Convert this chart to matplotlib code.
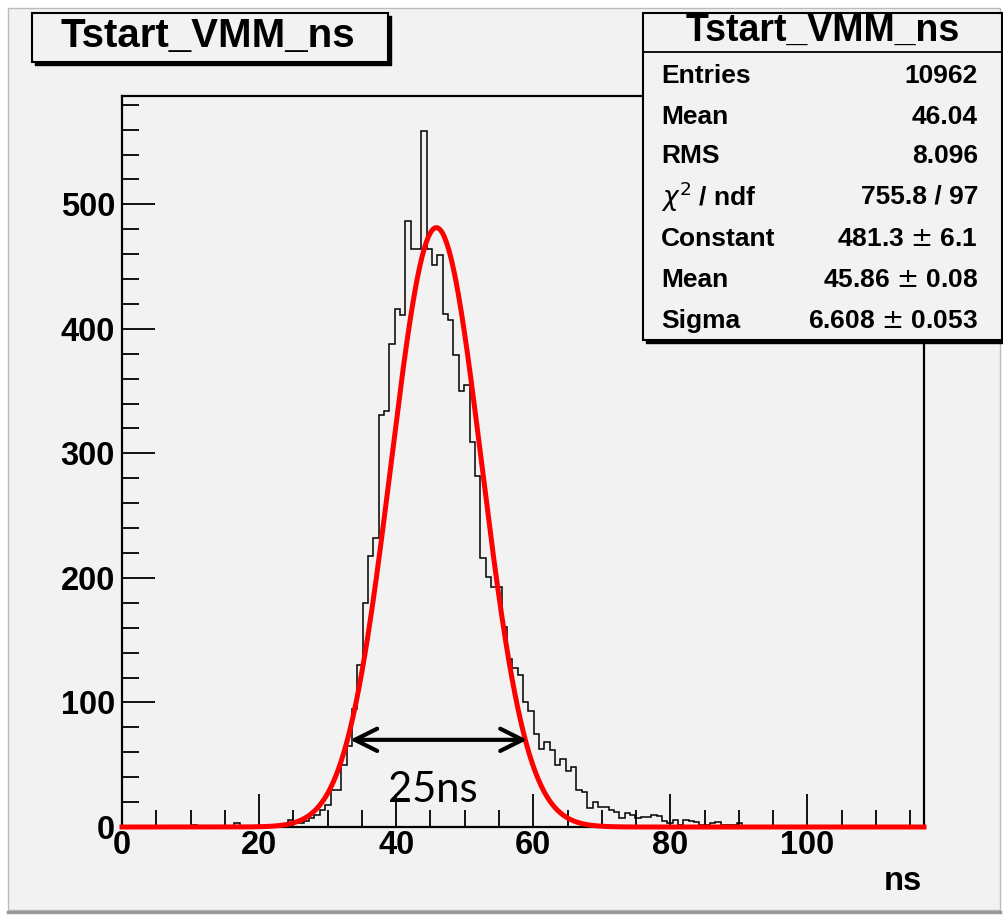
import numpy as np
import matplotlib
matplotlib.use("Agg")
from matplotlib import pyplot as plt
from matplotlib.patches import Rectangle
from matplotlib.lines import Line2D

# histogram Tstart_VMM_ns, 150 bins over 0..117 ns
bin_width = 0.78
n_bins = 150
first_bin = 13
counts = [2, 0, 0, 0, 0, 0, 0, 0, 3, 0, 0, 0, 0, 1, 0, 1, 2, 2,
          6, 3, 3, 5, 7, 10, 14, 18, 30, 30, 50, 65, 95, 130,
          180, 218, 232, 331, 334, 388, 416, 411, 487, 464, 464, 559,
          464, 451, 459, 412, 407, 379, 350, 355, 309, 282,
          216, 201, 193, 193, 161, 135, 128, 122, 100, 93, 75, 63,
          68, 62, 50, 55, 45, 48, 30, 28, 15, 20, 16, 16, 14, 12,
          7, 11, 10, 7, 8, 8, 10, 9, 5, 3, 6, 2, 6, 5, 4, 2, 2, 3,
          4, 2, 2, 2, 3]

# gaussian fit
fit_const = 481.3
fit_mean = 45.86
fit_sigma = 6.608

x_ticks = [0, 20, 40, 60, 80, 100]
y_ticks = [0, 100, 200, 300, 400, 500]

stat_names = ["Entries", "Mean", "RMS", r"$\chi^{2}$ / ndf", "Constant", "Mean", "Sigma"]
stat_values = ["10962", "46.04", "8.096", "755.8 / 97", "481.3 $\\pm$ 6.1",
               "45.86 $\\pm$ 0.08", "6.608 $\\pm$ 0.053"]

fwhm_left = 33.3
fwhm_right = 59.1
fwhm_level = 70

W, H = 1004, 917
grey = "#f2f2f2"
root_font = "Liberation Sans"
label_size = 23.5

fig = plt.figure(figsize=(W / 100, H / 100), dpi=100)
fig.patch.set_facecolor("white")


def fx(x):
    return x / W


def fy(y):
    return 1 - y / H


def box(x0, y0, x1, y1, lw=1.5, shadow=3, z=5):
    # ROOT style box with a drop shadow, coords in pixels from top-left
    if shadow:
        fig.add_artist(Rectangle((fx(x0 + shadow), fy(y1 + shadow)), fx(x1 - x0), (y1 - y0) / H,
                                 transform=fig.transFigure, facecolor="black",
                                 edgecolor="black", zorder=z))
    fig.add_artist(Rectangle((fx(x0), fy(y1)), fx(x1 - x0), (y1 - y0) / H,
                             transform=fig.transFigure, facecolor=grey,
                             edgecolor="black", lw=lw, zorder=z + 0.1))


# pad background
fig.add_artist(Rectangle((fx(8), fy(910)), fx(992), 902 / H, transform=fig.transFigure,
                         facecolor=grey, edgecolor="#bbbbbb", lw=1, zorder=-5))
fig.add_artist(Line2D([fx(8), fx(1000)], [fy(912), fy(912)], transform=fig.transFigure,
                      color="#999999", lw=2.5, zorder=-4))

ax = fig.add_axes([fx(122), fy(827), fx(924 - 122), (827 - 96) / H])
ax.set_facecolor(grey)

edges = np.arange(n_bins + 1) * bin_width
values = np.zeros(n_bins)
values[first_bin:first_bin + len(counts)] = counts
ax.stairs(values, edges, color="black", lw=1.1, zorder=3)

xf = np.linspace(0, edges[-1], 800)
yf = fit_const * np.exp(-0.5 * ((xf - fit_mean) / fit_sigma) ** 2)
ax.plot(xf, yf, color="red", lw=3.6, zorder=4, clip_on=False)

ax.set_xlim(0, edges[-1])
ax.set_ylim(0, 587)
ax.set_xticks(x_ticks)
ax.set_yticks(y_ticks)
ax.set_xticks(np.arange(0, 117, 5), minor=True)
ax.set_yticks(np.arange(0, 587, 20), minor=True)
ax.tick_params(which="major", direction="in", length=24, width=1.3)
ax.tick_params(which="minor", direction="in", length=12, width=1.3)
ax.tick_params(axis="y", which="major", pad=5)
ax.tick_params(axis="x", which="major", pad=2)
for lab in ax.get_xticklabels() + ax.get_yticklabels():
    lab.set_fontfamily(root_font)
    lab.set_fontweight("bold")
    lab.set_fontsize(label_size)
for s in ax.spines.values():
    s.set_linewidth(1.6)

# FWHM arrow and label
ax.annotate("", xy=(fwhm_left, fwhm_level), xytext=(fwhm_right, fwhm_level),
            arrowprops=dict(arrowstyle="<->,head_length=0.8,head_width=0.4",
                            lw=3, color="black", mutation_scale=20,
                            shrinkA=0, shrinkB=0), zorder=6)
ax.text(45.4, 30, "25ns", fontsize=30, family="Lato", ha="center", va="center", zorder=6)

fig.text(fx(922), fy(882), "ns", ha="right", va="center", family=root_font,
         fontweight="bold", fontsize=label_size)

# title box
box(32, 13, 388, 62)
fig.text(fx(208), fy(36), "Tstart_VMM_ns", ha="center", va="center", family=root_font,
         fontweight="bold", fontsize=29, zorder=7)

# stats box
box(643, 13, 1002, 340)
fig.add_artist(Line2D([fx(643), fx(1002)], [fy(52), fy(52)], transform=fig.transFigure,
                      color="black", lw=1.3, zorder=6))
fig.text(fx(823), fy(31), "Tstart_VMM_ns", ha="center", va="center", family=root_font,
         fontweight="bold", fontsize=27, zorder=7)
row_y = [76, 117, 156, 197, 239, 280, 321]
for name, val, yy in zip(stat_names, stat_values, row_y):
    fig.text(fx(661), fy(yy), name, ha="left", va="center", family=root_font,
             fontweight="bold", fontsize=19, zorder=7)
    fig.text(fx(978), fy(yy), val, ha="right", va="center", family=root_font,
             fontweight="bold", fontsize=19, zorder=7)

fig.savefig("out.png", dpi=100)
